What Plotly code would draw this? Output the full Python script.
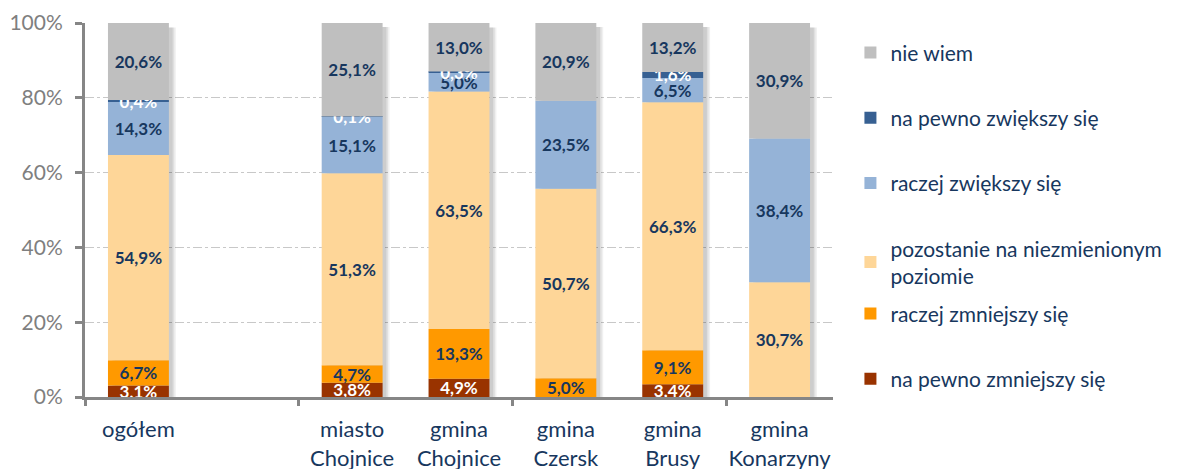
import numpy as np
import plotly.graph_objects as go

categories = ["ogółem", " ", "miasto<br>Chojnice", "gmina<br>Chojnice", "gmina<br>Czersk", "gmina<br>Brusy", "gmina<br>Konarzyny"]

series_names = ["na pewno zmniejszy się", "raczej zmniejszy się", "pozostanie na niezmienionym<br>poziomie",
                "raczej zwiększy się", "na pewno zwiększy się", "nie wiem"]

na_pewno_zmniejszy = [3.1, None, 3.8, 4.9, 0.0, 3.4, 0.0]
raczej_zmniejszy = [6.7, None, 4.7, 13.3, 5.0, 9.1, 0.0]
pozostanie = [54.9, None, 51.3, 63.5, 50.7, 66.3, 30.7]
raczej_zwiekszy = [14.3, None, 15.1, 5.0, 23.5, 6.5, 38.4]
na_pewno_zwiekszy = [0.4, None, 0.1, 0.3, 0.0, 1.6, 0.0]
nie_wiem = [20.6, None, 25.1, 13.0, 20.9, 13.2, 30.9]

y_tick_values = [0, 20, 40, 60, 80, 100]
y_tick_labels = ["0%", "20%", "40%", "60%", "80%", "100%"]

series = [na_pewno_zmniejszy, raczej_zmniejszy, pozostanie, raczej_zwiekszy, na_pewno_zwiekszy, nie_wiem]
colors = ["#993300", "#FF9900", "#FED698", "#95B3D7", "#376092", "#BFBFBF"]
text_colors = ["#FFFFFF", "#17375E", "#17375E", "#17375E", "#FFFFFF", "#17375E"]
legend_ids = ["legend2", "legend2", "legend", "legend", "legend", "legend"]

NAVY = "#17375E"
GRAY = "#868686"
FONT = "Lato"
BW = 0.57

fig = go.Figure()

arr = np.array([[np.nan if v is None else v for v in s] for s in series])
totals = np.nansum(arr, axis=0)
totals_list = [None if categories[i].strip() == "" else float(totals[i]) for i in range(len(categories))]

# soft shadow layers
for dx, a in [(0.065, 0.06), (0.05, 0.07), (0.035, 0.08)]:
    fig.add_trace(go.Bar(
        x=categories, y=[None if t is None else t - 1.2 for t in totals_list], base=0,
        width=BW, offset=-BW / 2 + dx,
        marker=dict(color=f"rgba(0,0,0,{a})", line=dict(width=0)),
        showlegend=False, hoverinfo="skip"))

cum = np.zeros(len(categories))
for i, (name, s) in enumerate(zip(series_names, series)):
    base = [None if v is None else float(cum[j]) for j, v in enumerate(s)]
    texts = ["" if (v is None or v == 0) else (f"{v:.1f}".replace(".", ",") + "%") for v in s]
    fig.add_trace(go.Bar(
        x=categories, y=s, base=base, name=name,
        width=BW, offset=-BW / 2,
        marker=dict(color=colors[i], line=dict(width=0)),
        text=texts, textposition="inside", insidetextanchor="middle", textangle=0,
        constraintext="none",
        textfont=dict(family=FONT, size=17, color=text_colors[i], weight="bold"),
        legendrank=1000 - i, legendgroup=f"g{i}", legend=legend_ids[i],
    ))
    cum = cum + np.nan_to_num(arr[i])

# boundary tick marks axis
fig.add_trace(go.Scatter(x=[-0.5], y=[0], xaxis="x2", mode="markers",
                         marker=dict(opacity=0), showlegend=False, hoverinfo="skip"))

leg_common = dict(xanchor="left", yanchor="top",
                  font=dict(family=FONT, size=21, color=NAVY),
                  tracegroupgap=35, itemwidth=30, bgcolor="rgba(0,0,0,0)")

fig.update_layout(
    width=1179, height=469,
    margin=dict(l=77, r=354, t=15, b=80, autoexpand=False),
    paper_bgcolor="white", plot_bgcolor="white",
    barmode="overlay",
    uniformtext=dict(mode="show", minsize=17),
    font=dict(family=FONT, color=NAVY),
    showlegend=True,
    legend=dict(x=1.0233, y=0.975, maxheight=460, **leg_common),
    legend2=dict(x=1.0233, y=0.277, maxheight=460, **leg_common),
    xaxis=dict(type="category", categoryorder="array", categoryarray=categories,
               range=[-0.5, 6.5], showgrid=False, ticks="",
               showline=True, linecolor=GRAY, linewidth=3, automargin=False,
               tickfont=dict(family=FONT, size=22, color=NAVY),
               ticklabelstandoff=11),
    xaxis2=dict(overlaying="x", side="bottom", range=[-0.5, 6.5],
                tickvals=[-0.5, 1.5, 3.5, 5.5], ticks="outside", ticklen=8,
                tickwidth=2.5, tickcolor=GRAY, showticklabels=False, automargin=False,
                showgrid=False, showline=False, zeroline=False),
    yaxis=dict(range=[0, 100], tickvals=y_tick_values, ticktext=y_tick_labels,
               showgrid=True, gridcolor="#C8C8C8", griddash="dashdot", gridwidth=1,
               showline=True, linecolor=GRAY, linewidth=3, automargin=False,
               ticks="outside", ticklen=7, tickwidth=2.5, tickcolor=GRAY,
               tickfont=dict(family=FONT, size=21, color="#7F7F7F"),
               ticklabelstandoff=8, zeroline=False),
)

fig.write_html("out.html")
